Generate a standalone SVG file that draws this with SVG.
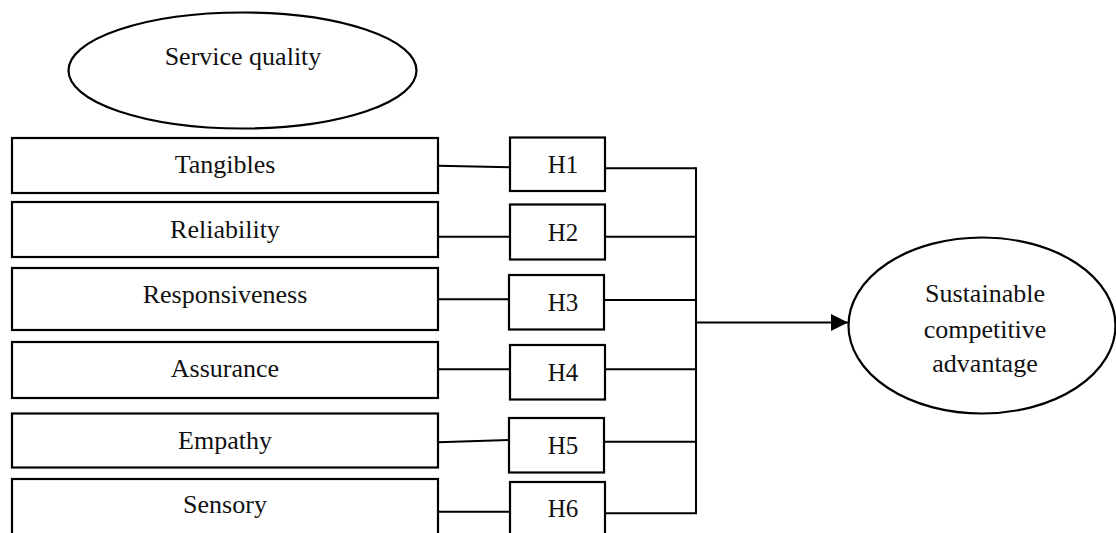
<svg xmlns="http://www.w3.org/2000/svg" width="1116" height="533" viewBox="0 0 1116 533">
<defs>
<style>
.box{fill:#fff;stroke:#000;stroke-width:2.2}
.lbl{font-family:"Liberation Serif","Times New Roman",serif;font-size:26px;fill:#111;text-anchor:middle}
.h{font-family:"Liberation Serif","Times New Roman",serif;font-size:25px;fill:#111;text-anchor:middle}
.con{fill:none;stroke:#000;stroke-width:2}
</style>
<marker id="arr" viewBox="0 0 10 10" refX="10" refY="5" markerWidth="17" markerHeight="17" markerUnits="userSpaceOnUse" orient="auto">
<path d="M0,0 L10,5 L0,10 Z" fill="#000"/>
</marker>
</defs>
<rect width="1116" height="533" fill="#fff"/>
<g id="service-quality">
<ellipse class="box" cx="242.5" cy="70.5" rx="174" ry="58"/>
<text class="lbl" x="243" y="65">Service quality</text>
</g>
<g id="tangibles"><rect class="box" x="12" y="138" width="426" height="55"/><text class="lbl" x="225" y="173">Tangibles</text></g>
<g id="reliability"><rect class="box" x="12" y="202" width="426" height="55"/><text class="lbl" x="225" y="238">Reliability</text></g>
<g id="responsiveness"><rect class="box" x="12" y="268" width="426" height="62"/><text class="lbl" x="225" y="303">Responsiveness</text></g>
<g id="assurance"><rect class="box" x="12" y="342" width="426" height="56"/><text class="lbl" x="225" y="377">Assurance</text></g>
<g id="empathy"><rect class="box" x="12" y="413.5" width="426" height="54"/><text class="lbl" x="225" y="449">Empathy</text></g>
<g id="sensory"><rect class="box" x="12" y="479" width="426" height="70"/><text class="lbl" x="225" y="513">Sensory</text></g>
<g id="h1"><rect class="box" x="510" y="137.5" width="95" height="53.5"/><text class="h" x="563" y="172.5">H1</text></g>
<g id="h2"><rect class="box" x="510" y="204.5" width="95" height="55"/><text class="h" x="563" y="240.5">H2</text></g>
<g id="h3"><rect class="box" x="509" y="275" width="95" height="54.5"/><text class="h" x="563" y="311">H3</text></g>
<g id="h4"><rect class="box" x="510" y="345" width="95" height="54.5"/><text class="h" x="563" y="381">H4</text></g>
<g id="h5"><rect class="box" x="509" y="418" width="95" height="54.5"/><text class="h" x="563" y="454">H5</text></g>
<g id="h6"><rect class="box" x="510" y="482" width="95" height="70"/><text class="h" x="563" y="517">H6</text></g>
<g id="sca">
<ellipse class="box" cx="982" cy="325.5" rx="133.5" ry="88"/>
<text class="lbl" x="985" y="301.5">Sustainable</text>
<text class="lbl" x="985" y="337.5">competitive</text>
<text class="lbl" x="985" y="371.5">advantage</text>
</g>
<g id="connectors">
<path class="con" d="M438,165.7 L510,167.3"/>
<path class="con" d="M438,236.7 L510,236.7"/>
<path class="con" d="M438,299.3 L509,299.3"/>
<path class="con" d="M438,369.3 L510,369.3"/>
<path class="con" d="M438,442.3 L509,440"/>
<path class="con" d="M438,511.7 L510,511.7"/>
<path class="con" d="M605,168.3 L696,168.3"/>
<path class="con" d="M605,236.7 L696,236.7"/>
<path class="con" d="M604,300 L696,300"/>
<path class="con" d="M605,369.3 L696,369.3"/>
<path class="con" d="M604,441.7 L696,441.7"/>
<path class="con" d="M605,513.3 L697,513.3"/>
<path class="con" d="M696,167.3 L696,514"/>
<path class="con" d="M696,322.5 L848,322.5" marker-end="url(#arr)"/>
</g>
</svg>
